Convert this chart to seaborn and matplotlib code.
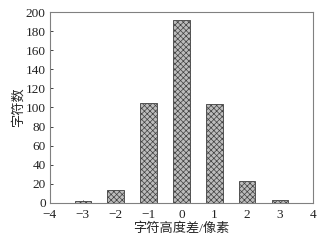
import numpy as np
import pandas as pd
import matplotlib
matplotlib.use("Agg")
import matplotlib.pyplot as plt
import seaborn as sns

# height difference (pixels) and number of characters
diffs = [-3, -2, -1, 0, 1, 2, 3]
counts = [2, 14, 105, 192, 104, 23, 3]
xticks = [-4, -3, -2, -1, 0, 1, 2, 3, 4]
yticks = [0, 20, 40, 60, 80, 100, 120, 140, 160, 180, 200]

sns.set_style("ticks")
plt.rcParams["font.family"] = ["Liberation Serif", "Noto Sans CJK SC"]
plt.rcParams["axes.unicode_minus"] = True
plt.rcParams["hatch.color"] = "#5a5a5a"
plt.rcParams["hatch.linewidth"] = 0.5

df = pd.DataFrame({"diff": diffs, "count": counts})

fig = plt.figure(figsize=(3.22, 2.41), dpi=100)
ax = fig.add_axes([0.155, 0.158, 0.817, 0.792])
sns.barplot(data=df, x="diff", y="count", native_scale=True, width=0.5,
            color="#bcbcbc", edgecolor="#404040", linewidth=0.6,
            hatch="xxxxxx", ax=ax, saturation=1)

ax.set_xlim(-4, 4)
ax.set_ylim(0, 200)
ax.set_xticks(xticks)
ax.set_yticks(yticks)
ax.tick_params(direction="in", length=2, width=0.6, labelsize=9.5,
               colors="#222222")
ax.tick_params(axis="x", pad=4.5)
ax.tick_params(axis="y", pad=3)
for s in ax.spines.values():
    s.set_visible(True)
    s.set_color("#808080")
    s.set_linewidth(0.8)
ax.set_xlabel("字符高度差/像素", fontsize=9.5, labelpad=1)
ax.set_ylabel("字符数", fontsize=9.5, labelpad=1)

fig.savefig("out.png", dpi=100)
